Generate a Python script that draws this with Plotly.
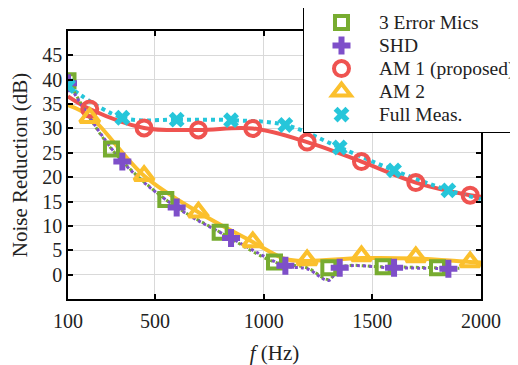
import plotly.graph_objects as go

# ---- data ----
xticks = [100, 500, 1000, 1500, 2000]
yticks = [0, 5, 10, 15, 20, 25, 30, 35, 40, 45]

# 3 Error Mics
mics_line_f = [100, 300, 550, 800, 1050, 1200, 1300, 1350, 1550, 1800, 1900]
mics_line_v = [39.8, 25.8, 15.4, 8.7, 2.6, 1.4, -1.0, 1.5, 1.6, 1.4, 1.3]
mics_f = [100, 300, 550, 800, 1050, 1300, 1550, 1800]
mics_v = [39.8, 25.8, 15.4, 8.7, 2.6, 1.4, 1.6, 1.4]

# SHD
shd_line_f = [100, 350, 600, 850, 1100, 1200, 1300, 1350, 1600, 1850, 1900]
shd_line_v = [39.3, 23.2, 13.8, 7.5, 1.8, 1.2, -1.2, 1.4, 1.4, 1.2, 1.2]
shd_f = [100, 350, 600, 850, 1100, 1350, 1600, 1850]
shd_v = [39.3, 23.2, 13.8, 7.5, 1.8, 1.4, 1.4, 1.2]

# AM 1 (proposed)
am1_line_f = [100, 200, 450, 700, 950, 1200, 1450, 1700, 1950, 2000]
am1_line_v = [36.6, 34.0, 30.1, 29.7, 30.0, 27.2, 23.2, 18.9, 16.3, 16.0]
am1_f = [200, 450, 700, 950, 1200, 1450, 1700, 1950]
am1_v = [34.0, 30.1, 29.7, 30.0, 27.2, 23.2, 18.9, 16.3]

# AM 2
am2_line_f = [100, 200, 450, 700, 950, 1100, 1200, 1450, 1700, 1950, 2000]
am2_line_v = [34.8, 32.5, 20.3, 12.8, 6.7, 3.2, 2.8, 3.4, 3.3, 2.6, 2.5]
am2_f = [200, 450, 700, 950, 1200, 1450, 1700, 1950]
am2_v = [32.2, 20.3, 12.8, 6.7, 3.0, 3.8, 3.6, 2.6]

# Full Meas.
full_line_f = [100, 350, 600, 850, 1100, 1350, 1600, 1850, 2000]
full_line_v = [38.7, 32.2, 31.8, 31.7, 30.7, 26.1, 21.4, 17.3, 15.5]
full_f = [100, 350, 600, 850, 1100, 1350, 1600, 1850]
full_v = [38.7, 32.2, 31.8, 31.7, 30.7, 26.1, 21.4, 17.3]

names = ["3 Error Mics", "SHD", "AM 1 (proposed)", "AM 2", "Full Meas."]

GREEN = "#77AC30"
PURPLE = "#7E4FC9"
RED = "#EF5350"
YELLOW = "#FBC02D"
CYAN = "#26C6DA"


def lg(name):
    return '<span style="font-size:19.5px">' + name + "</span>"


fig = go.Figure()

# lines (no legend)
fig.add_trace(go.Scatter(x=am2_line_f, y=am2_line_v, mode="lines", line=dict(color=YELLOW, width=4, shape="spline"), showlegend=False, hoverinfo="skip"))
fig.add_trace(go.Scatter(x=am1_line_f, y=am1_line_v, mode="lines", line=dict(color=RED, width=4, shape="spline"), showlegend=False, hoverinfo="skip"))
fig.add_trace(go.Scatter(x=full_line_f, y=full_line_v, mode="lines", line=dict(color=CYAN, width=4, dash="dot", shape="spline"), showlegend=False, hoverinfo="skip"))
fig.add_trace(go.Scatter(x=mics_line_f, y=mics_line_v, mode="lines", line=dict(color=GREEN, width=3, dash="dot", shape="spline"), showlegend=False, hoverinfo="skip"))
fig.add_trace(go.Scatter(x=shd_line_f, y=shd_line_v, mode="lines", line=dict(color=PURPLE, width=3, dash="dot", shape="spline"), showlegend=False, hoverinfo="skip"))

# markers (legend)
fig.add_trace(go.Scatter(x=mics_f, y=mics_v, mode="markers", name=lg(names[0]),
                         marker=dict(symbol="square-open", size=13, color=GREEN, line=dict(width=4, color=GREEN))))
fig.add_trace(go.Scatter(x=shd_f, y=shd_v, mode="markers", name=lg(names[1]),
                         marker=dict(symbol="cross", size=15, color=PURPLE, line=dict(width=0))))
fig.add_trace(go.Scatter(x=am1_f, y=am1_v, mode="markers", name=lg(names[2]),
                         marker=dict(symbol="circle-open", size=15, color=RED, line=dict(width=4, color=RED))))
fig.add_trace(go.Scatter(x=am2_f, y=am2_v, mode="markers", name=lg(names[3]),
                         marker=dict(symbol="triangle-up-open", size=17, color=YELLOW, line=dict(width=4, color=YELLOW))))
fig.add_trace(go.Scatter(x=full_f, y=full_v, mode="markers", name=lg(names[4]),
                         marker=dict(symbol="x", size=14, color=CYAN, line=dict(width=0))))

axis_common = dict(
    showline=True, linecolor="black", linewidth=1.5, mirror="ticks",
    ticks="inside", ticklen=5, tickwidth=1.5, tickcolor="black",
    showgrid=True, gridcolor="#d9d9d9", gridwidth=1, zeroline=False,
    tickfont=dict(family="Liberation Serif", size=20, color="#222"),
)

fig.update_layout(
    width=540, height=357,
    margin=dict(l=60, r=67, t=23, b=66, autoexpand=False),
    paper_bgcolor="white", plot_bgcolor="white",
    font=dict(family="Liberation Serif", color="#222"),
    xaxis=dict(range=[100, 2000], tickvals=xticks, ticktext=[str(v) for v in xticks],
               ticklabelstandoff=3,
               title=dict(text="<i>f</i> (Hz)", font=dict(size=21), standoff=16), **axis_common),
    yaxis=dict(range=[-5, 50], tickvals=yticks, ticktext=[str(v) for v in yticks],
               title=dict(text="Noise Reduction (dB)", font=dict(size=21), standoff=18), **axis_common),
    legend=dict(x=0.569, y=1.097, xanchor="left", yanchor="top",
                bgcolor="white", bordercolor="black", borderwidth=1,
                font=dict(family="Liberation Serif", size=15.4, color="#222"),
                itemwidth=65, tracegroupgap=0),
)

fig.write_html("out.html")
